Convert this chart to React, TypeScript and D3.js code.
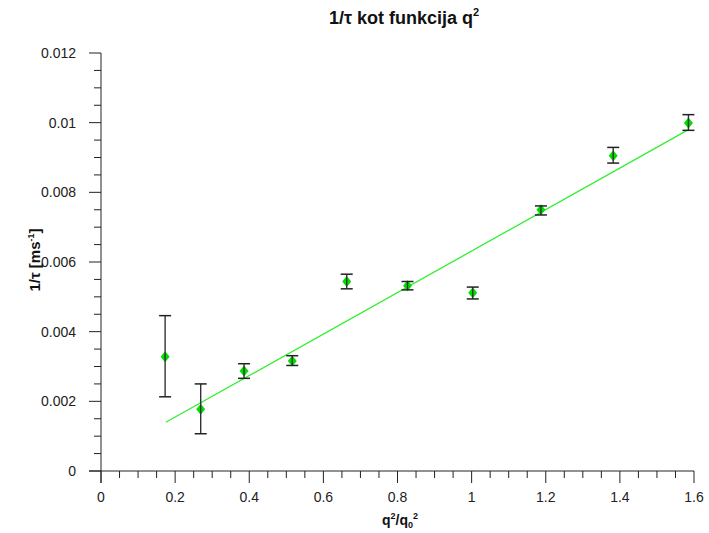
import * as d3 from "d3";

// measured points: q^2/q0^2 and 1/tau with error bars
const qRatio = [0.173, 0.269, 0.386, 0.516, 0.663, 0.827, 1.003, 1.187, 1.382, 1.585];
const invTau = [0.00328, 0.00177, 0.00287, 0.00316, 0.00544, 0.00532, 0.00512, 0.0075, 0.00905, 0.00999];
const errLow = [0.00213, 0.00107, 0.00266, 0.00303, 0.00523, 0.0052, 0.00494, 0.00735, 0.00884, 0.00978];
const errHigh = [0.00446, 0.0025, 0.00308, 0.00331, 0.00565, 0.00544, 0.00528, 0.00761, 0.00929, 0.01023];

// fitted line end points
const fitX = [0.175, 1.585];
const fitY = [0.0014, 0.0098];

const xTicks = [0, 0.2, 0.4, 0.6, 0.8, 1, 1.2, 1.4, 1.6];
const yTicks = [0, 0.002, 0.004, 0.006, 0.008, 0.01, 0.012];

export default function App() {
  const width = 709;
  const height = 533;

  const x = d3.scaleLinear().domain([0, 1.6]).range([101, 694]);
  const y = d3.scaleLinear().domain([0, 0.012]).range([471, 53]);

  const xMinor = d3.range(0, 1.6001, 0.05);
  const yMinor = d3.range(0, 0.01201, 0.0005);

  const fitLine = d3
    .line<number>()
    .x((d) => x(d))
    .y((_, i) => y(fitY[i]));

  const diamond = (cx: number, cy: number) =>
    `M${cx},${cy - 5.5} L${cx + 4.5},${cy} L${cx},${cy + 5.5} L${cx - 4.5},${cy} Z`;

  const font = "'Liberation Sans', Arial, sans-serif";

  return (
    <svg
      width={width}
      height={height}
      style={{ position: "absolute", left: 0, top: 0, background: "#fff" }}
      fontFamily={font}
    >
      <text x={404} y={24} textAnchor="middle" fontSize={18} fontWeight="bold" fill="#111">
        1/τ kot funkcija q<tspan dy={-8} fontSize={11}>2</tspan>
      </text>

      {/* y axis */}
      <line x1={x(0)} y1={y(0.012)} x2={x(0)} y2={483} stroke="#222" />
      {yMinor.map((v, i) => (
        <line
          key={"ym" + i}
          x1={x(0) - (i % 4 === 0 ? 12 : 7)}
          x2={x(0)}
          y1={y(v)}
          y2={y(v)}
          stroke="#222"
        />
      ))}
      {yTicks.map((v) => (
        <text
          key={"yt" + v}
          x={76}
          y={y(v)}
          textAnchor="end"
          dominantBaseline="central"
          fontSize={14}
          fill="#222"
        >
          {v.toString()}
        </text>
      ))}

      {/* x axis */}
      <line x1={89} y1={y(0)} x2={x(1.6)} y2={y(0)} stroke="#222" />
      {xMinor.map((v, i) => (
        <line
          key={"xm" + i}
          x1={x(v)}
          x2={x(v)}
          y1={y(0)}
          y2={y(0) + (i % 4 === 0 ? 12 : 7)}
          stroke="#222"
        />
      ))}
      {xTicks.map((v) => (
        <text key={"xt" + v} x={x(v)} y={502} textAnchor="middle" fontSize={14} fill="#222">
          {v.toString()}
        </text>
      ))}

      <text x={400} y={525} textAnchor="middle" fontSize={14} fontWeight="bold" fill="#111">
        q<tspan dy={-6} fontSize={9}>2</tspan>
        <tspan dy={6}>/q</tspan>
        <tspan dy={3} fontSize={9}>0</tspan>
        <tspan dy={-9} fontSize={9}>2</tspan>
      </text>

      <text
        transform={`translate(40, 260) rotate(-90)`}
        textAnchor="middle"
        fontSize={15}
        fontWeight="bold"
        fill="#111"
      >
        1/τ [ms<tspan dy={-6} fontSize={9}>-1</tspan>
        <tspan dy={6}>]</tspan>
      </text>

      {/* fit */}
      <path d={fitLine(fitX) ?? ""} fill="none" stroke="#33ee33" strokeWidth={1.3} />

      {/* points */}
      {qRatio.map((q, i) => (
        <g key={"p" + i}>
          <path d={diamond(x(q), y(invTau[i]))} fill="#00dd00" />
          <line x1={x(q)} x2={x(q)} y1={y(errLow[i])} y2={y(errHigh[i])} stroke="#333" strokeWidth={1.4} />
          <line x1={x(q) - 6} x2={x(q) + 6} y1={y(errLow[i])} y2={y(errLow[i])} stroke="#222" strokeWidth={1.5} />
          <line x1={x(q) - 6} x2={x(q) + 6} y1={y(errHigh[i])} y2={y(errHigh[i])} stroke="#222" strokeWidth={1.5} />
        </g>
      ))}
    </svg>
  );
}
